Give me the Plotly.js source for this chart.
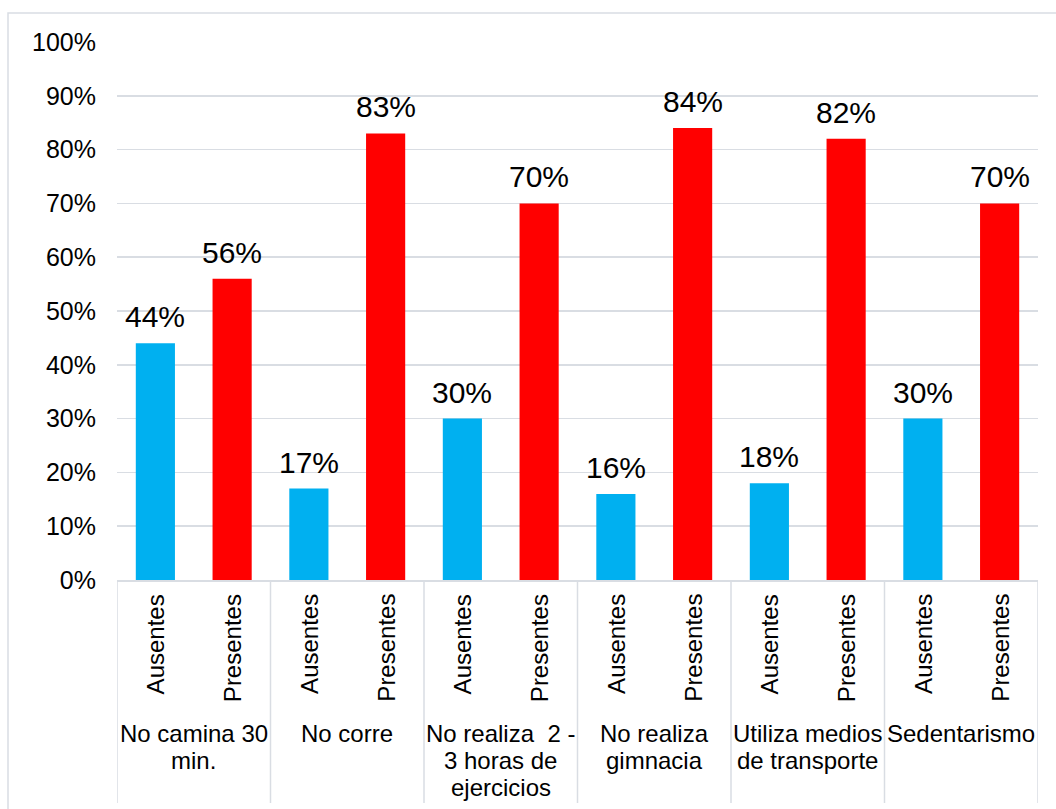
<!DOCTYPE html>
<html>
<head>
<meta charset="utf-8">
<script src="https://cdn.plot.ly/plotly-3.0.1.min.js"></script>
<style>html,body{margin:0;padding:0;background:#fff;}#chart{width:1056px;height:809px;}</style>
</head>
<body>
<div id="chart"></div>
<script>
const groups = ["No camina 30<br>min.", "No corre", "No realiza  2 -<br>3 horas de<br>ejercicios", "No realiza<br>gimnacia", "Utiliza medios<br>de transporte", "Sedentarismo"];
const seriesNames = ["Ausentes", "Presentes"];
const ausentes = [0.44, 0.17, 0.30, 0.16, 0.18, 0.30];
const presentes = [0.56, 0.83, 0.70, 0.84, 0.82, 0.70];
const yTickVals = [0, 0.1, 0.2, 0.3, 0.4, 0.5, 0.6, 0.7, 0.8, 0.9, 1.0];
const yTickText = ["0%", "10%", "20%", "30%", "40%", "50%", "60%", "70%", "80%", "90%", "100%"];

const FONT = "Arial, 'Liberation Sans', sans-serif";
const GRID = "#D9DDE3";
const colors = ["#00B0F0", "#FF0000"];
const seriesValues = [ausentes, presentes];

const traces = seriesValues.map((vals, k) => ({
  type: "bar",
  name: seriesNames[k],
  x: groups,
  y: vals,
  marker: {color: colors[k]},
  hoverinfo: "none"
}));

// plot area in pixels
const L = 117, R = 18, T = 42, B = 229;
const plotH = 809 - T - B;
const pxToPaperY = (py) => (809 - B - py) / plotH;
const plotW = 1056 - L - R;
const pxToPaperX = (px) => (px - L) / plotW;

const annotations = [];
const offsets = [-0.25, 0.25];
seriesValues.forEach((vals, k) => {
  vals.forEach((v, i) => {
    // data labels
    annotations.push({
      x: i + offsets[k], y: v, xref: "x", yref: "y",
      text: Math.round(v * 100) + "%", showarrow: false,
      xanchor: "center", yanchor: "bottom", yshift: 8,
      font: {family: FONT, size: 30, color: "#000"}
    });
    // sub-category labels
    annotations.push({
      x: i + offsets[k], y: pxToPaperY(592), xref: "x", yref: "paper",
      text: seriesNames[k], showarrow: false, textangle: -90,
      xanchor: "center", yanchor: "top",
      font: {family: FONT, size: 24, color: "#000"}
    });
  });
});
groups.forEach((g, i) => {
  g.split("<br>").forEach((line, j) => {
    annotations.push({
      x: i, y: pxToPaperY(733 + 27 * j), xref: "x", yref: "paper",
      text: line, showarrow: false, xanchor: "center", yanchor: "middle",
      font: {family: FONT, size: 24, color: "#000"}
    });
  });
});

const shapes = [];
for (let i = 0; i <= groups.length; i++) {
  shapes.push({
    type: "line", xref: "x", yref: "paper",
    x0: i - 0.5, x1: i - 0.5, y0: 0, y1: pxToPaperY(803),
    line: {color: GRID, width: 1.5}
  });
}
// outer chart frame
shapes.push({
  type: "rect", xref: "paper", yref: "paper",
  x0: pxToPaperX(8), x1: pxToPaperX(1062), y0: pxToPaperY(815), y1: pxToPaperY(13),
  line: {color: GRID, width: 1.5}, fillcolor: "rgba(0,0,0,0)", layer: "below"
});

const layout = {
  width: 1056, height: 809,
  margin: {l: L, r: R, t: T, b: B, pad: 0},
  paper_bgcolor: "#fff", plot_bgcolor: "#fff",
  showlegend: false,
  barmode: "group", bargap: 0, bargroupgap: 0.49,
  font: {family: FONT, color: "#000"},
  xaxis: {
    type: "category", showticklabels: false, ticks: "",
    showgrid: false, zeroline: false,
    showline: true, linecolor: GRID, linewidth: 1.5,
    range: [-0.5, groups.length - 0.5], fixedrange: true
  },
  yaxis: {
    range: [0, 1], tickvals: yTickVals, ticktext: yTickText,
    showgrid: true, gridcolor: GRID, gridwidth: 1.5,
    zeroline: false, showline: false, ticks: "",
    ticklabelstandoff: 20,
    tickfont: {family: FONT, size: 25, color: "#000"}, fixedrange: true
  },
  annotations: annotations,
  shapes: shapes
};

Plotly.newPlot("chart", traces, layout, {displayModeBar: false, staticPlot: true});
</script>
</body>
</html>
